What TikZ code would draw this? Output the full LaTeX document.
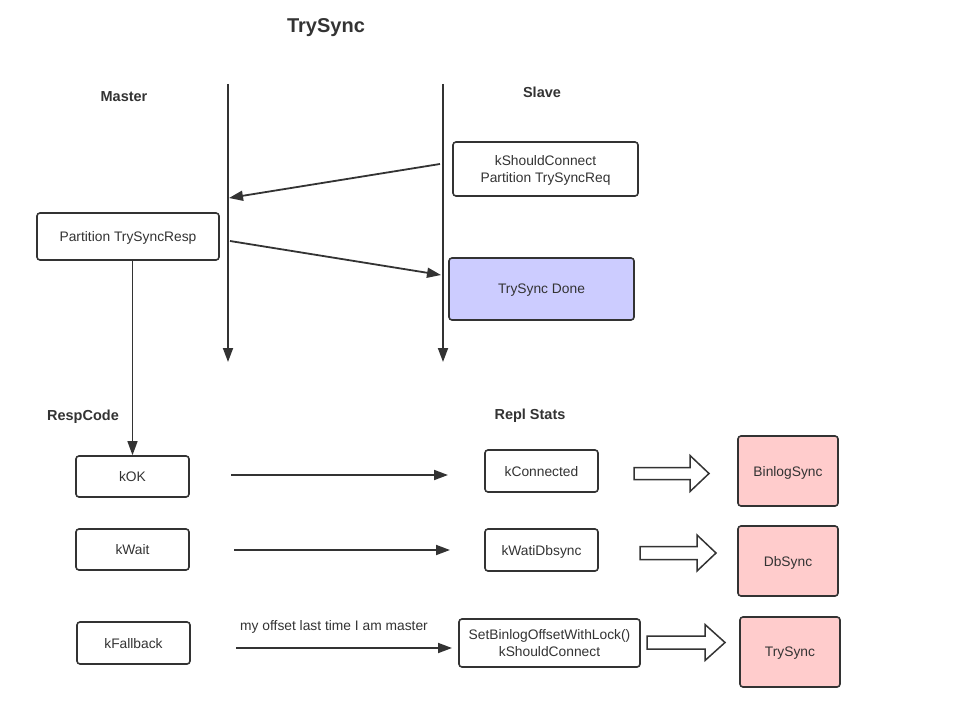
\documentclass[tikz,border=0pt]{standalone}
\usepackage{fontspec}
\setmainfont{Liberation Sans}
\usetikzlibrary{arrows.meta}
\definecolor{ink}{HTML}{333333}
\definecolor{blueF}{HTML}{CCCCFF}
\definecolor{pinkF}{HTML}{FFCCCC}
\begin{document}
\begin{tikzpicture}[x=1pt,y=-1pt,
  font=\fontsize{13.8}{17}\selectfont,
  box/.style={draw=ink, line width=1.6pt, rounded corners=3pt, fill=white, text=ink, align=center, inner sep=0pt, text depth=0pt},
  msg/.style={draw=ink, line width=1.8pt, -{Triangle[length=14pt,width=10pt]}},
  blockarrow/.style={draw=ink, line width=1.5pt, fill=white, line join=miter},
  head/.style={text=ink, font=\fontsize{14.5}{16}\selectfont\bfseries},
  lbl/.style={text=ink}]
\useasboundingbox (0,0) rectangle (980,714);
% titles
\node[text=ink, font=\fontsize{20}{24}\selectfont\bfseries] (title) at (326,28) {TrySync};
\node[head] (master) at (124,97) {Master};
\node[head] (slave) at (542,92) {Slave};
\node[head] (respcode) at (83,417) {RespCode};
\node[head] (replstats) at (530,416) {Repl Stats};
% lifelines
\coordinate (mtop) at (228,84);
\coordinate (mbot) at (228,362);
\coordinate (stop) at (443,84);
\coordinate (sbot) at (443,362);
\draw[msg] (mtop) -- (mbot);
\draw[msg] (stop) -- (sbot);
% top boxes
\node[box, minimum width=185, minimum height=54] (req) at (545.5,169) {kShouldConnect\\Partition TrySyncReq};
\node[box, minimum width=182, minimum height=47] (resp) at (128,236.5) {Partition TrySyncResp};
\node[box, fill=blueF, minimum width=185, minimum height=62] (done) at (541.5,289) {TrySync Done};
% messages
\coordinate (s1) at (440,164);
\coordinate (m1) at (229,198);
\draw[msg] (s1) -- (m1);
\coordinate (m2) at (230,241);
\coordinate (s2) at (441,275);
\draw[msg] (m2) -- (s2);
% bottom boxes
\node[box, minimum width=113, minimum height=41] (kok) at (132.5,476.5) {kOK};
\node[box, minimum width=113, minimum height=42] (kconn) at (541.5,471) {kConnected};
\node[box, fill=pinkF, minimum width=100, minimum height=70] (binlog) at (788,471) {BinlogSync};
\node[box, minimum width=113, minimum height=41] (kwait) at (132.5,549.5) {kWait};
\node[box, minimum width=113, minimum height=42] (kwati) at (541.5,550) {kWatiDbsync};
\node[box, fill=pinkF, minimum width=100, minimum height=70] (dbsync) at (788,561) {DbSync};
\node[box, minimum width=113, minimum height=42] (kfb) at (133.5,643) {kFallback};
\node[box, minimum width=181, minimum height=48] (setb) at (549.5,643) {SetBinlogOffsetWithLock()\\kShouldConnect};
\node[box, fill=pinkF, minimum width=100, minimum height=70] (trys) at (790,652) {TrySync};
% resp to kOK
\draw[msg, line width=1.4pt] (resp.south -| kok.north) -- (kok.north);
% horizontal arrows
\coordinate (a1s) at (231,475); \coordinate (a1e) at (448,475);
\draw[msg] (a1s) -- (a1e);
\coordinate (a2s) at (234,550); \coordinate (a2e) at (450,550);
\draw[msg] (a2s) -- (a2e);
\coordinate (a3s) at (236,648); \coordinate (a3e) at (452,648);
\draw[msg] (a3s) -- (a3e);
\node[lbl] (offs) at (334,627) {my offset last time I am master};
% block arrows
\draw[blockarrow] (634,467.5) -- (690,467.5) -- (690,455.5) -- (709,473.5) -- (690,491.5) -- (690,479.5) -- (634,479.5) -- cycle;
\draw[blockarrow] (640,546.5) -- (697,546.5) -- (697,535) -- (716,553) -- (697,571) -- (697,559.5) -- (640,559.5) -- cycle;
\draw[blockarrow] (647,636) -- (705,636) -- (705,624.5) -- (725,642.5) -- (705,660.5) -- (705,649) -- (647,649) -- cycle;
\end{tikzpicture}
\end{document}
